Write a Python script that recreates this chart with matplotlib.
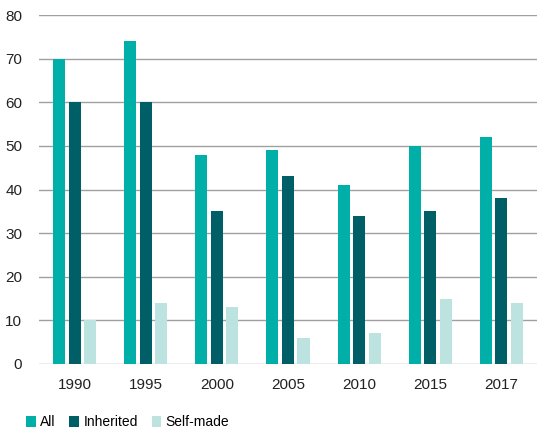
import matplotlib
matplotlib.use("Agg")
import matplotlib.pyplot as plt
import numpy as np
from matplotlib.patches import Patch

years = ["1990", "1995", "2000", "2005", "2010", "2015", "2017"]
all_vals = [70, 74, 48, 49, 41, 50, 52]
inherited = [60, 60, 35, 43, 34, 35, 38]
self_made = [10, 14, 13, 6, 7, 15, 14]
series_names = ["All", "Inherited", "Self-made"]
colors = ["#00b0a8", "#005f66", "#bde3e0"]

plt.rcParams['font.family'] = ['Liberation Sans', 'DejaVu Sans']

fig = plt.figure(figsize=(5.46, 4.34), dpi=100)
ax = fig.add_axes([0.0714, 0.1613, 0.912, 0.8041])

x = np.arange(len(years))
w = 0.17
off = 0.218
for i, (vals, c, n) in enumerate(zip([all_vals, inherited, self_made], colors, series_names)):
    ax.bar(x + (i - 1) * off, vals, width=w, color=c, label=n, zorder=3)

ax.set_xlim(-0.5, 6.5)
ax.set_ylim(0, 80)
ax.set_yticks(range(0, 81, 10))
ax.set_xticks(x)
ax.set_xticklabels(years)
ax.grid(axis='y', color='#a0a0a0', linewidth=1, zorder=0)
for s in ax.spines.values():
    s.set_visible(False)
ax.tick_params(axis='both', length=0, labelsize=11, colors='#222222')
ax.tick_params(axis='y', pad=12)
ax.tick_params(axis='x', pad=10)

handles = [Patch(facecolor=c, label=n) for c, n in zip(colors, series_names)]
fig.legend(handles=handles, loc='lower left', bbox_to_anchor=(0.03, -0.012), ncol=3,
           frameon=False, fontsize=10, handlelength=0.7, handleheight=0.8,
           handletextpad=0.3, columnspacing=1.0, borderaxespad=0.3)

fig.savefig("out.png", dpi=100)
